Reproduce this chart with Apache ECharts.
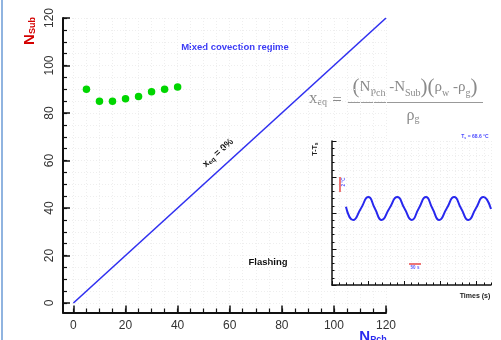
<!DOCTYPE html>
<html><head><meta charset="utf-8">
<script src="https://cdn.jsdelivr.net/npm/echarts@6/dist/echarts.min.js"></script>
<style>html,body{margin:0;padding:0;background:#fff}#c{width:501px;height:340px}</style>
</head><body><div id="c"></div>
<script>
// ---- Main chart data ----
const mainTickLabels = [0, 20, 40, 60, 80, 100, 120];
const mainMinorTicks = [0,5,10,15,20,25,30,35,40,45,50,55,60,65,70,75,80,85,90,95,100,105,110,115,120];
const xeqZeroLineX = [0, 120];
const xeqZeroLineY = [0, 120];
const mixedNPch = [5, 10, 15, 20, 25, 30, 35, 40];
const mixedNSub = [90, 85, 85, 86, 87, 89, 90, 91];
// ---- Inset data (T - Ts vs time) ----
const insetTimeMajor = [0, 150, 300, 450, 600];
const insetTimeMinor = [0,30,60,90,120,150,180,210,240,270,300,330,360,390,420,450,480,510,540,570,600,630,660];
const insetTempMajor = [-10, -5, 0, 5, 10];
const insetTempMinor = [-10,-9,-8,-7,-6,-5,-4,-3,-2,-1,0,1,2,3,4,5,6,7,8,9,10];
const insetTime = [58, 88, 120, 151, 178, 206, 238, 271, 301, 331, 360, 390, 417, 445, 476, 507, 536, 566, 597, 628, 660];
const insetDT   = [0.88, -0.97, 0.63, 2.22, 0.63, -0.97, 0.63, 2.22, 0.63, -0.97, 0.63, 2.22, 0.63, -0.97, 0.63, 2.22, 0.63, -0.97, 0.63, 2.22, 0.56];

const chart = echarts.init(document.getElementById('c'), null, {renderer: 'canvas'});
const F = '"Liberation Sans", Arial, sans-serif';
const S = '"Liberation Serif", "Times New Roman", serif';
const faint = {show: true, lineStyle: {color: '#eeeeee', type: [1, 2], width: 1}};

function majAxis(grid, min, max, labels, isY, opts) {
  return Object.assign({
    type: 'value', gridIndex: grid, min: min, max: max,
    axisLine: {show: true, onZero: false, lineStyle: {color: '#111', width: 2}},
    axisTick: {show: true, inside: true, length: 7, customValues: labels, lineStyle: {color: '#111', width: 1.5}},
    axisLabel: {show: true, customValues: labels, color: '#333', fontSize: 12, fontFamily: F, margin: 7, rotate: isY ? 90 : 0},
    splitLine: {show: false}
  }, opts || {});
}
function minAxis(grid, min, max, ticks, len, opts) {
  return Object.assign({
    type: 'value', gridIndex: grid, min: min, max: max,
    axisLine: {show: false, onZero: false},
    axisTick: {show: true, inside: true, length: len, customValues: ticks, lineStyle: {color: '#111', width: 1.2}},
    axisLabel: {show: false},
    splitLine: faint
  }, opts || {});
}

const option = {
  backgroundColor: '#fff',
  animation: false,
  grid: [
    {left: 63, top: 18, width: 323, height: 294.5},
    {left: 332, top: 141, width: 159, height: 144, show: true, backgroundColor: '#fff', borderWidth: 0, z: 5}
  ],
  xAxis: [
    majAxis(0, -4, 120, mainTickLabels, false, {position: 'bottom'}),
    minAxis(0, -4, 120, mainMinorTicks, 4, {position: 'bottom'}),
    Object.assign(majAxis(1, 0, 660, insetTimeMajor, false, {position: 'bottom', z: 6}), {
      axisLine: {show: true, onZero: false, lineStyle: {color: '#111', width: 1.5}},
      axisTick: {show: true, inside: true, length: 4, customValues: insetTimeMajor, lineStyle: {color: '#111', width: 1}},
      axisLabel: {show: false}
    }),
    minAxis(1, 0, 660, insetTimeMinor, 2.5, {position: 'bottom', z: 6,
      axisTick: {show: true, inside: true, length: 2.5, customValues: insetTimeMinor, lineStyle: {color: '#111', width: 1}}})
  ],
  yAxis: [
    majAxis(0, -4, 120, mainTickLabels, true, {position: 'left'}),
    minAxis(0, -4, 120, mainMinorTicks, 4, {position: 'left'}),
    Object.assign(majAxis(1, -10, 10, insetTempMajor, true, {position: 'left', z: 6}), {
      axisLine: {show: true, onZero: false, lineStyle: {color: '#111', width: 1.5}},
      axisTick: {show: true, inside: true, length: 4.5, customValues: insetTempMajor, lineStyle: {color: '#111', width: 1}},
      axisLabel: {show: false}
    }),
    minAxis(1, -10, 10, insetTempMinor, 2.5, {position: 'left', z: 6,
      axisTick: {show: true, inside: true, length: 2.5, customValues: insetTempMinor, lineStyle: {color: '#111', width: 1}}})
  ],
  series: [
    {type: 'line', xAxisIndex: 0, yAxisIndex: 0, data: xeqZeroLineX.map((x, i) => [x, xeqZeroLineY[i]]),
     symbol: 'none', lineStyle: {color: '#3030f0', width: 1.6}, z: 3},
    {type: 'scatter', xAxisIndex: 0, yAxisIndex: 0, data: mixedNPch.map((x, i) => [x, mixedNSub[i]]),
     symbol: 'circle', symbolSize: 7.5, itemStyle: {color: '#00d600', opacity: 1}, z: 3},
    {type: 'line', xAxisIndex: 2, yAxisIndex: 2, data: insetTime.map((t, i) => [t, insetDT[i]]),
     symbol: 'none', smooth: 0.55, lineStyle: {color: '#2828ee', width: 2}, z: 8}
  ],
  graphic: [
    {type: 'line', shape: {x1: 2, y1: 0, x2: 2, y2: 340}, style: {stroke: '#6b9bd6', lineWidth: 1.5}},
    // axis names
    {type: 'text', x: 30, y: 31, rotation: Math.PI / 2,
     style: {text: 'N{s|Sub}', align: 'center', verticalAlign: 'middle', fill: '#d40000',
       font: 'bold 15px ' + F, rich: {s: {fontSize: 9, fontWeight: 'bold', fontFamily: F, fill: '#d40000', verticalAlign: 'bottom', padding: [6, 0, 0, 0]}}}},
    {type: 'text', x: 373, y: 337,
     style: {text: 'N{s|Pch}', align: 'center', verticalAlign: 'middle', fill: '#2a2aee',
       font: 'bold 15px ' + F, rich: {s: {fontSize: 9, fontWeight: 'bold', fontFamily: F, fill: '#2a2aee', verticalAlign: 'bottom', padding: [6, 0, 0, 0]}}}},
    // annotations
    {type: 'text', x: 235, y: 47, style: {text: 'Mixed covection regime', align: 'center', verticalAlign: 'middle', fill: '#3b3bf5', font: 'bold 9.5px ' + F}},
    {type: 'text', x: 268, y: 262, style: {text: 'Flashing', align: 'center', verticalAlign: 'middle', fill: '#111', font: 'bold 9.5px ' + F}},
    {type: 'text', x: 218, y: 153, rotation: 42 * Math.PI / 180,
     style: {text: 'x{s|eq} = 0%', align: 'center', verticalAlign: 'middle', fill: '#111', font: 'bold 9.5px ' + F,
       rich: {s: {fontSize: 6.5, fontWeight: 'bold', fontFamily: F, fill: '#111', verticalAlign: 'bottom', padding: [4, 0, 0, 0]}}}},
    // formula
    {type: 'text', x: 318, y: 99,
     style: {text: 'x{s|eq}', align: 'center', verticalAlign: 'middle', fill: '#8a8a8a', font: '17px ' + S,
       rich: {s: {fontSize: 10, fontFamily: S, fill: '#8a8a8a', verticalAlign: 'bottom', padding: [7, 0, 0, 0]}}}},
    {type: 'text', x: 337, y: 101, style: {text: '=', align: 'center', verticalAlign: 'middle', fill: '#8a8a8a', font: '17px ' + S}},
    {type: 'text', x: 415, y: 87.5,
     style: {text: '{p|(}N{s|Pch} -N{s|Sub}{p|)}{p|(}ρ{s|w} -ρ{s|g}{p|)}', align: 'center', verticalAlign: 'middle', fill: '#8a8a8a', font: '15px ' + S,
       rich: {s: {fontSize: 10, fontFamily: S, fill: '#8a8a8a', verticalAlign: 'bottom', padding: [7, 0, 0, 0]},
              p: {fontSize: 21, fontFamily: S, fill: '#8a8a8a', verticalAlign: 'middle'}}}},
    {type: 'line', shape: {x1: 347, y1: 102.5, x2: 483, y2: 102.5}, style: {stroke: '#999', lineWidth: 1.2}},
    {type: 'text', x: 413, y: 116,
     style: {text: 'ρ{s|g}', align: 'center', verticalAlign: 'middle', fill: '#8a8a8a', font: '16px ' + S,
       rich: {s: {fontSize: 10, fontFamily: S, fill: '#8a8a8a', verticalAlign: 'bottom', padding: [7, 0, 0, 0]}}}},
    // inset decorations
    {type: 'text', x: 315, y: 149, rotation: Math.PI / 2, z: 20,
     style: {text: 'T-T{s|s}', align: 'center', verticalAlign: 'middle', fill: '#222', font: 'bold 7px ' + F,
       rich: {s: {fontSize: 5, fontWeight: 'bold', fontFamily: F, fill: '#222', verticalAlign: 'bottom', padding: [3, 0, 0, 0]}}}},
    {type: 'text', x: 475, y: 137, z: 20,
     style: {text: 'T{s|s} = 68.6 °C', align: 'center', verticalAlign: 'middle', fill: '#4a4aff', font: 'bold 5px ' + F,
       rich: {s: {fontSize: 3.5, fontWeight: 'bold', fontFamily: F, fill: '#4a4aff', verticalAlign: 'bottom', padding: [2, 0, 0, 0]}}}},
    {type: 'text', x: 475, y: 296, z: 20, style: {text: 'Times (s)', align: 'center', verticalAlign: 'middle', fill: '#222', font: 'bold 7px ' + F}},
    {type: 'line', z: 20, shape: {x1: 340, y1: 177, x2: 340, y2: 192}, style: {stroke: '#e84848', lineWidth: 1.5}},
    {type: 'text', x: 344, y: 182, z: 20, rotation: Math.PI / 2, style: {text: '2 °C', align: 'center', verticalAlign: 'middle', fill: '#5a5aff', font: 'bold 4.5px ' + F}},
    {type: 'line', z: 20, shape: {x1: 409, y1: 264, x2: 421, y2: 264}, style: {stroke: '#e84848', lineWidth: 1.5}},
    {type: 'text', x: 415, y: 268, z: 20, style: {text: '50 s', align: 'center', verticalAlign: 'middle', fill: '#5a5aff', font: 'bold 4.5px ' + F}}
  ]
};
chart.setOption(option);
</script>
</body></html>
